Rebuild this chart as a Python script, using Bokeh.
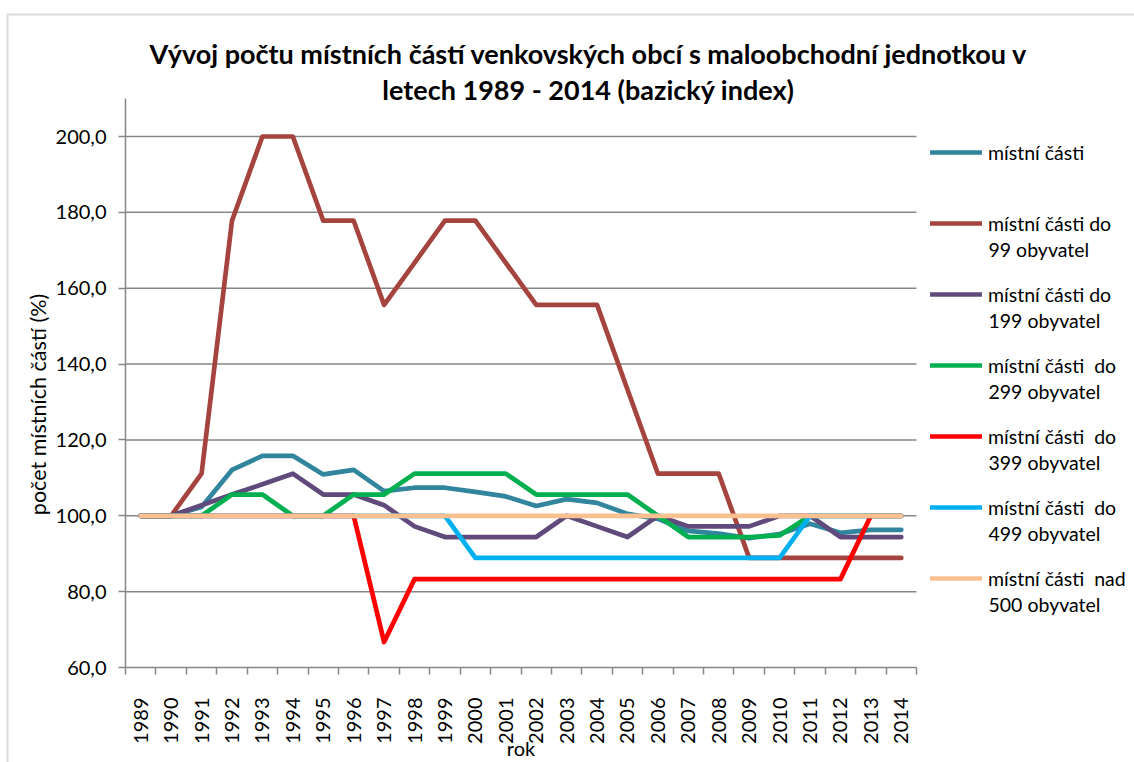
import math
from bokeh.plotting import figure
from bokeh.models import (FixedTicker, CustomJSTickFormatter, Legend, LegendItem,
                          Range1d, Label, BoxAnnotation)
from bokeh.embed import file_html
from bokeh.resources import INLINE

# ---------------- data ----------------
years = [str(y) for y in range(1989, 2015)]

mistni_casti = [100, 100, 102.3, 112.1, 115.8, 115.8, 110.9, 112.1, 106.5, 107.4,
                107.4, 106.3, 105.1, 102.6, 104.4, 103.4, 100.5, 99.2, 96.0, 95.3,
                94.1, 95.2, 97.9, 95.5, 96.3, 96.3]
do_99 = [100, 100, 111.1, 177.8, 200, 200, 177.8, 177.8, 155.6, 166.7,
         177.8, 177.8, 166.7, 155.6, 155.6, 155.6, 133.3, 111.1, 111.1, 111.1,
         88.9, 88.9, 88.9, 88.9, 88.9, 88.9]
do_199 = [100, 100, 102.8, 105.6, 108.3, 111.1, 105.6, 105.6, 102.8, 97.2,
          94.4, 94.4, 94.4, 94.4, 100, 97.2, 94.4, 100, 97.2, 97.2,
          97.2, 100, 100, 94.4, 94.4, 94.4]
do_299 = [100, 100, 100, 105.6, 105.6, 100, 100, 105.6, 105.6, 111.1,
          111.1, 111.1, 111.1, 105.6, 105.6, 105.6, 105.6, 100, 94.4, 94.4,
          94.4, 94.8, 100, 100, 100, 100]
do_399 = [100, 100, 100, 100, 100, 100, 100, 100, 66.7, 83.3,
          83.3, 83.3, 83.3, 83.3, 83.3, 83.3, 83.3, 83.3, 83.3, 83.3,
          83.3, 83.3, 83.3, 83.3, 100, 100]
do_499 = [100, 100, 100, 100, 100, 100, 100, 100, 100, 100,
          100, 88.9, 88.9, 88.9, 88.9, 88.9, 88.9, 88.9, 88.9, 88.9,
          88.9, 88.9, 100, 100, 100, 100]
nad_500 = [100] * 26

series = [mistni_casti, do_99, do_199, do_299, do_399, do_499, nad_500]
legend_first = ["místní části", "místní části do", "místní části do",
                "místní části  do", "místní části  do", "místní části  do",
                "místní části  nad"]
legend_second = ["", "99 obyvatel", "199 obyvatel", "299 obyvatel",
                 "399 obyvatel", "499 obyvatel", "500 obyvatel"]
colors = ["#31859C", "#A5443E", "#604A7B", "#00B050", "#FF0000", "#00B0F0", "#FAC090"]

y_ticks = [60, 80, 100, 120, 140, 160, 180, 200]
y_axis_top = 210
title_1 = "Vývoj počtu místních částí venkovských obcí s maloobchodní jednotkou v"
title_2 = "letech 1989 - 2014 (bazický index)"
y_title = "počet místních částí (%)"
x_title = "rok"

# ---------------- layout constants (pixels, from the top-left of the canvas) ----------------
FONT = "Lato"
GRID = "#878787"
W, H = 1134, 762
PLOT_L, PLOT_R = 125, 916          # plotting area, horizontal
PLOT_B = 667                       # y of the value 60 (x axis)
PX_PER_UNIT = 531 / 140.0          # vertical scale
n = len(years)
cat_px = (PLOT_R - PLOT_L) / n

def sy(page_y):                    # page y (down) -> screen units (up from bottom)
    return H - page_y

# the frame covers the whole canvas; axes are pinned inside it
x_start = -0.5 - PLOT_L / cat_px
x_end = -0.5 + (W - PLOT_L) / cat_px
y_start = y_ticks[0] - (H - PLOT_B) / PX_PER_UNIT
y_end = y_ticks[0] + PLOT_B / PX_PER_UNIT

p = figure(width=W, height=H, output_backend="svg", toolbar_location=None,
           x_range=Range1d(x_start, x_end), y_range=Range1d(y_start, y_end),
           min_border=0)
p.outline_line_color = None
p.background_fill_color = "white"
p.border_fill_color = "white"
p.xgrid.visible = False
p.ygrid.visible = False

idx = list(range(n))

# x axis: labels at category centres, ticks at category boundaries
xa = p.xaxis[0]
xa.fixed_location = y_ticks[0]
xa.bounds = (-0.5, n - 0.5)
xa.ticker = FixedTicker(ticks=idx, minor_ticks=[i - 0.5 for i in range(n + 1)])
xa.formatter = CustomJSTickFormatter(args=dict(years=years),
                                     code="const i = Math.round(tick); return years[i] || '';")
xa.major_tick_out = 0
xa.major_tick_in = 0
xa.minor_tick_out = 7
xa.minor_tick_in = 0
xa.minor_tick_line_color = GRID
xa.minor_tick_line_width = 1.5
xa.axis_line_color = GRID
xa.axis_line_width = 1.5
xa.major_label_orientation = math.pi / 2
xa.major_label_standoff = 23
xa.major_label_text_font = FONT
xa.major_label_text_font_size = "20px"
xa.major_label_text_color = "#000000"

ya = p.yaxis[0]
ya.fixed_location = -0.5
ya.bounds = (y_ticks[0], y_axis_top)
ya.ticker = FixedTicker(ticks=y_ticks)
ya.formatter = CustomJSTickFormatter(code="return tick.toFixed(1).replace('.', ',');")
ya.major_tick_out = 7
ya.major_tick_in = 0
ya.minor_tick_out = 0
ya.minor_tick_in = 0
ya.major_tick_line_color = GRID
ya.major_tick_line_width = 1.5
ya.axis_line_color = GRID
ya.axis_line_width = 1.5
ya.major_label_standoff = 12
ya.major_label_text_font = FONT
ya.major_label_text_font_size = "20px"
ya.major_label_text_color = "#000000"

# horizontal gridlines across the plotting area only
p.segment(x0=[-0.5] * (len(y_ticks) - 1), x1=[n - 0.5] * (len(y_ticks) - 1),
          y0=y_ticks[1:], y1=y_ticks[1:], line_color=GRID, line_width=1.5)

renderers = []
for vals, col in zip(series, colors):
    r = p.line(x=idx, y=vals, line_color=col, line_width=4.7,
               line_cap="round", line_join="round")
    renderers.append(r)

# legend (first lines) to the right of the plotting area
LEG_X = PLOT_R + 14
LEG_TOP = 140
ITEM_H, PITCH = 24, 71
n_items = len(legend_first)
leg_h = n_items * ITEM_H + (n_items - 1) * (PITCH - ITEM_H)
legend = Legend(items=[LegendItem(label=t, renderers=[r])
                       for t, r in zip(legend_first, renderers)],
                location=(LEG_X, sy(LEG_TOP + leg_h)), orientation="vertical",
                glyph_width=52, glyph_height=ITEM_H, label_height=ITEM_H,
                label_standoff=6, spacing=PITCH - ITEM_H, padding=0, margin=0,
                border_line_color=None, background_fill_alpha=0,
                label_text_font=FONT, label_text_font_size="19.5px",
                label_text_color="#000000")
p.add_layout(legend)

# second lines of the legend labels
for k, t in enumerate(legend_second):
    if not t:
        continue
    p.add_layout(Label(x=LEG_X + 58, y=sy(LEG_TOP + ITEM_H / 2 + PITCH * k + 25.5),
                       x_units="screen", y_units="screen",
                       text=t, text_align="left", text_baseline="middle",
                       text_font=FONT, text_font_size="19.5px", text_color="#000000"))

# two-line chart title
TITLE_CX = 588
for text, yy in ((title_1, 53), (title_2, 89)):
    p.add_layout(Label(x=TITLE_CX, y=sy(yy), x_units="screen", y_units="screen",
                       text=text, text_align="center", text_baseline="middle",
                       text_font=FONT, text_font_style="bold", text_font_size="27px",
                       text_color="#000000"))

# axis titles
p.add_layout(Label(x=37, y=sy(404), x_units="screen", y_units="screen", text=y_title,
                   angle=math.pi / 2, text_align="center", text_baseline="middle",
                   text_font=FONT, text_font_size="21.5px", text_color="#000000"))
p.add_layout(Label(x=(PLOT_L + PLOT_R) / 2, y=sy(747), x_units="screen", y_units="screen",
                   text=x_title, text_align="center", text_baseline="middle",
                   text_font=FONT, text_font_size="20px", text_color="#000000"))

# chart area border (left and top edges visible, as in the cropped original)
p.add_layout(BoxAnnotation(left=7, right=W + 20, top=sy(14), bottom=-20,
                           left_units="screen", right_units="screen",
                           top_units="screen", bottom_units="screen",
                           fill_alpha=0, line_color="#868686", line_width=2))

open("out.html", "w").write(file_html(p, INLINE))
